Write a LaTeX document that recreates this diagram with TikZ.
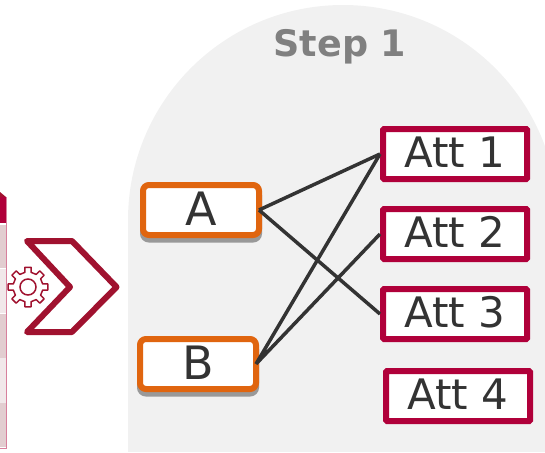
\documentclass[tikz,border=0pt]{standalone}
\usepackage{fontspec}
\setmainfont{DejaVu Sans}
\usetikzlibrary{positioning, shadows}
\definecolor{domegray}{HTML}{F1F1F1}
\definecolor{attred}{HTML}{B0003A}
\definecolor{keyorange}{HTML}{E0650F}
\definecolor{chevred}{HTML}{A0122F}
\definecolor{inkgray}{HTML}{333333}
\definecolor{rowdark}{HTML}{E2CDD0}
\definecolor{rowlight}{HTML}{F1E8EA}
\begin{document}
\begin{tikzpicture}[x=1pt, y=-1pt,
		attbox/.style={draw=attred, fill=white, line width=6pt, rounded corners=1pt, minimum width=144pt, minimum height=50pt, inner sep=0pt, text=inkgray, text height=27pt, text depth=0pt, font=\fontsize{42}{42}\selectfont},
		keybox/.style={draw=keyorange, fill=white, line width=6pt, rounded corners=6pt, minimum width=116pt, minimum height=50pt, outer sep=0pt, inner sep=0pt, text=inkgray, text height=31pt, text depth=0pt, font=\fontsize{46}{46}\selectfont, drop shadow={shadow xshift=0pt, shadow yshift=-4.5pt, draw=black!40, fill=black!40, opacity=1}},
		link/.style={draw=inkgray, line width=3.5pt}]
	\useasboundingbox (0,0) rectangle (545,452);
	% dome behind step
	\begin{scope}
		\clip (0,0) rectangle (545,452);
		\fill[domegray] (343,220) circle (215);
		\fill[domegray] (128,220) rectangle (545,452);
	\end{scope}
	\node[text=gray, font=\fontsize{36.5}{36.5}\selectfont\bfseries] (title) at (340,47) {Step 1};
	% table cut off at the left
	\fill[chevred] (0,192) -- (6,197) -- (0,197) -- cycle;
	\fill[attred] (0,197) rectangle (6,223);
	\foreach \ya/\yb/\rowcol in {225/268/rowdark, 269/313/rowlight, 314/358/rowdark, 358/403/rowlight, 403/447/rowdark}
		\fill[\rowcol] (0,\ya) rectangle (6,\yb);
	\draw[attred!50, line width=1pt] (6.5,197) -- (6.5,448) -- (0,448);
	% chevron and gear
	\draw[chevred, line width=6pt, line join=round] (27,241) -- (72,241) -- (116.5,287) -- (72,332) -- (27,332) -- (70,287) -- cycle;
	\begin{scope}[shift={(28,287)}]
		\draw[chevred, line width=1.5pt, fill=white, line join=round] (-12:15)
			\foreach \a in {0,45,...,315} { -- (\a-12:15) -- (\a-9:20) -- (\a+9:20) -- (\a+12:15) } -- cycle;
		\draw[chevred, line width=1.5pt] (0,0) circle (8);
	\end{scope}
	% boxes
	\node[keybox] (a) at (201,210) {A};
	\node[keybox, below=104pt of a, xshift=-3pt] (b) {B};
	\node[attbox] (att1) at (455,154) {Att 1};
	\node[attbox, below=24pt of att1] (att2) {Att 2};
	\node[attbox, below=24pt of att2] (att3) {Att 3};
	\node[attbox, below=26pt of att3, xshift=3pt] (att4) {Att 4};
	\draw[link]
		(a.east) -- (att1.west)
		(a.east) -- (att3.west)
		(b.east) -- (att1.west)
		(b.east) -- (att2.west);
\end{tikzpicture}
\end{document}
